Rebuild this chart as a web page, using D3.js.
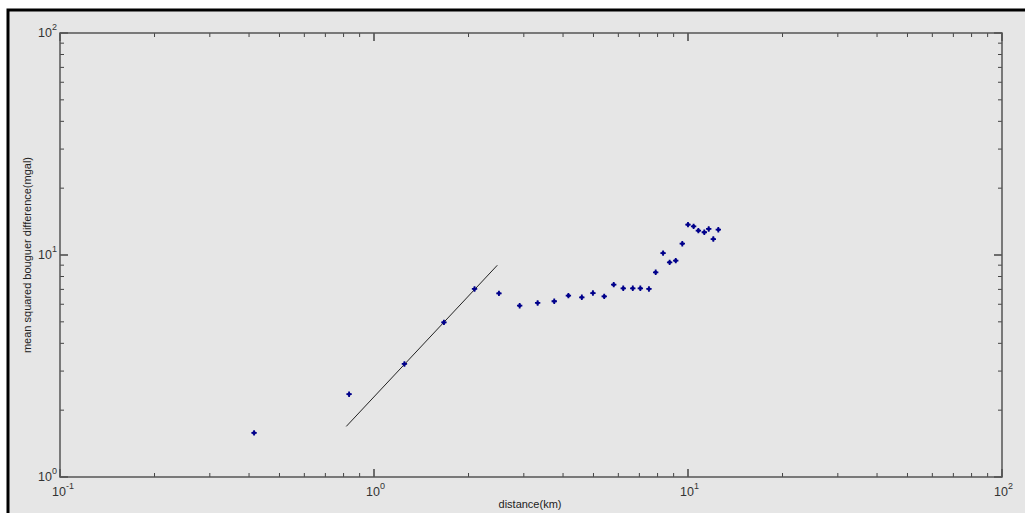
<!DOCTYPE html>
<html>
<head>
<meta charset="utf-8">
<script src="https://cdn.jsdelivr.net/npm/d3@7"></script>
<style>
  body { margin: 0; background: #fff; }
  svg { display: block; font-family: "Liberation Sans", Arial, sans-serif; }
</style>
</head>
<body>
<svg width="1025" height="513"></svg>
<script>
// distance (km) and mean squared bouguer difference (mgal)
let distance = [0.415, 0.833, 1.25, 1.67, 2.09, 2.50, 2.91, 3.32, 3.75, 4.16, 4.59, 4.98, 5.41,
  5.80, 6.22, 6.67, 7.05, 7.51, 7.89, 8.33, 8.74, 9.14, 9.59, 10.0, 10.42, 10.79, 11.27, 11.64, 12.04, 12.49]
let difference = [1.58, 2.36, 3.23, 4.97, 7.03, 6.72, 5.91, 6.08, 6.19, 6.56, 6.45, 6.74, 6.51,
  7.35, 7.08, 7.08, 7.08, 7.03, 8.36, 10.2, 9.27, 9.43, 11.24, 13.7, 13.46, 12.87, 12.66, 13.1, 11.8, 13.0]
// fitted line end points
let fitX = [0.816, 2.47]
let fitY = [1.69, 8.99]

let xDecades = [-1, 0, 1, 2]
let yDecades = [0, 1, 2]

let svg = d3.select("svg")

// outer frame
svg.append("rect")
  .attr("x", 8).attr("y", 10)
  .attr("width", 1030).attr("height", 520)
  .style("fill", "#e6e6e6")
  .style("stroke", "#000")
  .style("stroke-width", 3)

let pLeft = 60, pRight = 1002, pTop = 33, pBottom = 477

let x = d3.scaleLog().domain([0.1, 100]).range([pLeft, pRight])
let y = d3.scaleLog().domain([1, 100]).range([pBottom, pTop])

// minor + major ticks
let minorX = [], minorY = []
xDecades.slice(0, -1).forEach(d => { for (let k = 2; k <= 9; k++) minorX.push(k * Math.pow(10, d)) })
yDecades.slice(0, -1).forEach(d => { for (let k = 2; k <= 9; k++) minorY.push(k * Math.pow(10, d)) })
let majorX = xDecades.map(d => Math.pow(10, d))
let majorY = yDecades.map(d => Math.pow(10, d))

let ticks = svg.append("g").style("stroke", "#444")

let tickX = (vals, len, w) => {
  vals.forEach(v => {
    ticks.append("line").attr("x1", x(v)).attr("x2", x(v))
      .attr("y1", pBottom).attr("y2", pBottom - len).style("stroke-width", w)
    ticks.append("line").attr("x1", x(v)).attr("x2", x(v))
      .attr("y1", pTop).attr("y2", pTop + len).style("stroke-width", w)
  })
}
let tickY = (vals, len, w) => {
  vals.forEach(v => {
    ticks.append("line").attr("y1", y(v)).attr("y2", y(v))
      .attr("x1", pLeft).attr("x2", pLeft + len).style("stroke-width", w)
    ticks.append("line").attr("y1", y(v)).attr("y2", y(v))
      .attr("x1", pRight).attr("x2", pRight - len).style("stroke-width", w)
  })
}
tickX(minorX, 4, 1)
tickY(minorY, 4, 1)
tickX(majorX, 8, 1.5)
tickY(majorY, 8, 1.5)

// axes box
svg.append("rect")
  .attr("x", pLeft).attr("y", pTop)
  .attr("width", pRight - pLeft).attr("height", pBottom - pTop)
  .style("fill", "none")
  .style("stroke", "#555")
  .style("stroke-width", 1.5)

// tick labels
xDecades.forEach(d => {
  let t = svg.append("text")
    .attr("x", x(Math.pow(10, d)) - 8)
    .attr("y", pBottom + 19)
    .style("font-size", "12.5px")
    .style("fill", "#333")
  t.append("tspan").text("10")
  t.append("tspan").attr("dy", -7).style("font-size", "9px").text(d)
})
yDecades.forEach(d => {
  let t = svg.append("text")
    .attr("x", 38)
    .attr("y", y(Math.pow(10, d)) + 4)
    .style("font-size", "12.5px")
    .style("fill", "#333")
  t.append("tspan").text("10")
  t.append("tspan").attr("dy", -7).style("font-size", "9px").text(d)
})

// axis titles
svg.append("text")
  .attr("x", 530).attr("y", 508)
  .attr("text-anchor", "middle")
  .style("font-size", "11px")
  .style("fill", "#222")
  .text("distance(km)")

svg.append("text")
  .attr("transform", `translate(31,${(pTop + pBottom) / 2}) rotate(-90)`)
  .attr("text-anchor", "middle")
  .style("font-size", "11px")
  .style("fill", "#222")
  .text("mean squared bouguer difference(mgal)")

// fitted line
svg.append("line")
  .attr("x1", x(fitX[0])).attr("y1", y(fitY[0]))
  .attr("x2", x(fitX[1])).attr("y2", y(fitY[1]))
  .style("stroke", "#222")
  .style("stroke-width", 1)

// data points
let pts = svg.append("g")
pts.selectAll("path")
  .data(distance)
  .join("path")
  .attr("transform", (d, i) => `translate(${x(d)},${y(difference[i])})`)
  .attr("d", d3.symbol(d3.symbolCross, 16))
  .style("fill", "#00008b")
pts.selectAll("circle")
  .data(distance)
  .join("circle")
  .attr("cx", d => x(d))
  .attr("cy", (d, i) => y(difference[i]))
  .attr("r", 1.8)
  .style("fill", "#00008b")
</script>
</body>
</html>
